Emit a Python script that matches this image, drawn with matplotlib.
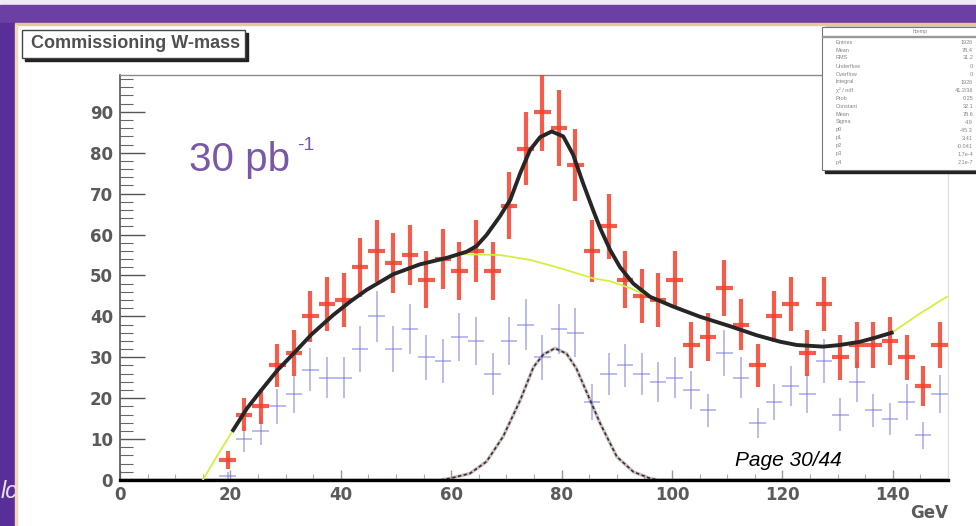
import matplotlib
matplotlib.use("Agg")
import matplotlib.pyplot as plt
from matplotlib.patches import Rectangle
from matplotlib.ticker import MultipleLocator

plt.rcParams["font.family"] = ["Liberation Sans", "DejaVu Sans"]

# histogram bins (GeV), 3 GeV wide
bin_centers = [19.5, 22.5, 25.5, 28.5, 31.5, 34.5, 37.5, 40.5, 43.5, 46.5, 49.5,
               52.5, 55.5, 58.5, 61.5, 64.5, 67.5, 70.5, 73.5, 76.5, 79.5, 82.5,
               85.5, 88.5, 91.5, 94.5, 97.5, 100.5, 103.5, 106.5, 109.5, 112.5,
               115.5, 118.5, 121.5, 124.5, 127.5, 130.5, 133.5, 136.5, 139.5,
               142.5, 145.5, 148.5]

# red: signal + background
total_counts = [5, 16, 18, 28, 31, 40, 43, 44, 52, 56, 53,
                55, 49, 54, 51, 56, 51, 67, 81, 90, 86, 77,
                56, 62, 49, 45, 44, 49, 33, 35, 47, 38,
                28, 40, 43, 31, 43, 30, 33, 33, 34,
                30, 23, 33]
total_err = [2.2, 4.0, 4.2, 5.3, 5.6, 6.3, 6.6, 6.6, 7.2, 7.5, 7.3,
             7.4, 7.0, 7.3, 7.1, 7.5, 7.1, 8.2, 9.0, 9.5, 9.3, 8.8,
             7.5, 7.9, 7.0, 6.7, 6.6, 7.0, 5.7, 5.9, 6.9, 6.2,
             5.3, 6.3, 6.6, 5.6, 6.6, 5.5, 5.7, 5.7, 5.8,
             5.5, 4.8, 5.7]

# blue: background only
bkg_counts = [1, 10, 12, 18, 21, 27, 25, 25, 32, 40, 32,
              37, 30, 29, 35, 34, 26, 34, 38, 30, 37, 36,
              19, 26, 28, 26, 24, 25, 22, 17, 31, 25,
              14, 19, 23, 21, 29, 16, 24, 17, 15,
              19, 11, 21]
bkg_err = [1.0, 3.2, 3.5, 4.2, 4.6, 5.2, 5.0, 5.0, 5.7, 6.3, 5.7,
           6.1, 5.5, 5.4, 5.9, 5.8, 5.1, 5.8, 6.2, 5.5, 6.1, 6.0,
           4.4, 5.1, 5.3, 5.1, 4.9, 5.0, 4.7, 4.1, 5.6, 5.0,
           3.7, 4.4, 4.8, 4.6, 5.4, 4.0, 4.9, 4.1, 3.9,
           4.4, 3.3, 4.6]

# fitted curves
fit_total_x = [20.5, 23.0, 25.5, 28.5, 31.5, 34.7, 38.6, 41.7, 44.7, 49.5, 54.3,
               59.2, 62.8, 64.6, 66.4, 68.8, 70.7, 72.5, 74.3, 76.1, 78.2,
               80.3, 82.1, 83.9, 85.7, 87.0, 88.8, 90.6, 93.0, 96.0, 100.2,
               105.1, 110.5, 115.3, 119.6, 122.6, 127.4, 130.4, 134.1, 137.1, 139.8]
fit_total_y = [12.2, 17.5, 21.8, 26.8, 31.0, 35.6, 40.3, 43.6, 46.5, 50.3, 52.7,
               54.3, 55.8, 57.2, 59.9, 64.4, 68.5, 75.0, 80.7, 83.8, 85.2,
               84.0, 79.5, 72.5, 66.0, 61.5, 56.2, 52.0, 48.0, 44.8, 42.4,
               39.9, 37.6, 35.4, 33.8, 33.0, 32.6, 33.0, 33.8, 34.9, 36.0]

fit_bkg_x = [15.0, 17.5, 20.5, 23.0, 25.5, 28.5, 31.5, 34.7, 38.6, 41.7, 44.7,
             49.5, 54.3, 59.2, 62.2, 68.8, 74.3, 79.7, 85.7, 88.8, 92.4, 96.0,
             100.2, 105.1, 110.5, 115.3, 119.6, 122.6, 127.4, 130.4, 134.1,
             137.1, 139.8, 141.9, 144.9, 149.8]
fit_bkg_y = [0.0, 5.7, 12.2, 17.5, 21.8, 26.8, 31.0, 35.6, 40.3, 43.6, 46.5,
             50.3, 52.7, 54.3, 55.2, 55.0, 53.8, 51.8, 49.3, 48.6, 46.9, 44.8,
             42.4, 39.9, 37.6, 35.4, 33.8, 33.0, 32.6, 33.0, 33.8,
             34.9, 36.0, 37.9, 40.7, 44.8]

fit_sig_x = [0.0, 58.0, 59.8, 63.4, 66.4, 69.4, 72.5, 74.9, 76.7, 78.8, 80.9,
             82.7, 84.5, 87.0, 90.0, 93.0, 96.0, 97.5, 150.0]
fit_sig_y = [0.0, 0.0, 0.4, 1.6, 4.5, 10.6, 19.5, 27.6, 30.7, 32.2, 30.9,
             27.2, 21.6, 13.8, 5.7, 2.0, 0.4, 0.0, 0.0]

stat_names = ["Entries", "Mean", "RMS", "Underflow", "Overflow", "Integral",
              "\u03c7\u00b2 / ndf", "Prob", "Constant", "Mean", "Sigma",
              "p0", "p1", "p2", "p3", "p4"]
stat_values = ["1926", "78.4", "31.2", "0", "0", "1926",
               "41.2/36", "0.25", "32.1", "78.6", "4.9",
               "-45.3", "3.41", "-0.041", "1.7e-4", "2.1e-7"]

W, H = 976, 526
fig = plt.figure(figsize=(W / 100, H / 100), dpi=100)
fig.patch.set_facecolor("white")


def fy(py):
    return 1 - py / H


# slide decoration (purple band, left strip, thin tan border)
fig.patches.append(Rectangle((0, fy(5)), 1, 5 / H, transform=fig.transFigure,
                             color="#efe9f5", zorder=0))
fig.patches.append(Rectangle((0, fy(23)), 1, 18 / H, transform=fig.transFigure,
                             color="#6c3fa2", zorder=0))
fig.patches.append(Rectangle((0, 0), 15 / W, fy(23), transform=fig.transFigure,
                             color="#5a2e98", zorder=0))
fig.patches.append(Rectangle((15 / W, fy(25)), 1, 2 / H, transform=fig.transFigure,
                             color="#e6c79c", zorder=0))
fig.patches.append(Rectangle((15 / W, 0), 2 / W, fy(25), transform=fig.transFigure,
                             color="#f0d8b8", zorder=0))
fig.text(1 / W, fy(492), "lc", ha="left", va="center", color="#e8e0f0",
         fontsize=17, style="italic")

# main axes
ax = fig.add_axes([120 / W, fy(480), 828 / W, 405 / H])
ax.set_xlim(0, 150)
ax.set_ylim(0, 99)

ax.errorbar(bin_centers, bkg_counts, yerr=bkg_err, xerr=1.5, fmt="none",
            ecolor="#7070e0", elinewidth=1.1, alpha=0.6, zorder=2)
ax.errorbar(bin_centers, total_counts, yerr=total_err, xerr=1.5, fmt="none",
            ecolor="#f2402c", elinewidth=3, alpha=0.85, zorder=3)

ax.plot(fit_bkg_x, fit_bkg_y, color="#d6ef3e", lw=1.3, zorder=4)
ax.plot(fit_sig_x, fit_sig_y, color="#cdbdbd", lw=2.4, zorder=1)
ax.plot(fit_sig_x, fit_sig_y, color="#333333", lw=1.2, dashes=(2, 1.5), zorder=2)
ax.plot(fit_total_x, fit_total_y, color="#262626", lw=2.8, zorder=6)

ax.spines["bottom"].set_color("black")
ax.spines["bottom"].set_linewidth(2.4)
ax.spines["left"].set_color("#555555")
ax.spines["left"].set_linewidth(1.2)
ax.spines["top"].set_color("#8a8a8a")
ax.spines["top"].set_linewidth(1.0)
ax.spines["right"].set_color("#dddddd")

ax.xaxis.set_major_locator(MultipleLocator(20))
ax.xaxis.set_minor_locator(MultipleLocator(5))
ax.yaxis.set_major_locator(MultipleLocator(10))
ax.yaxis.set_minor_locator(MultipleLocator(2))
ax.tick_params(axis="y", which="major", direction="in", length=18, width=1,
               color="#555555", labelsize=12, labelcolor="#5a5a5a", pad=5)
ax.tick_params(axis="y", which="minor", direction="in", length=9, width=0.8,
               color="#666666")
ax.tick_params(axis="x", which="major", direction="in", length=7, width=1,
               color="#999999", labelsize=12, labelcolor="#5a5a5a", pad=4)
ax.tick_params(axis="x", which="minor", direction="in", length=4, width=0.8,
               color="#aaaaaa")
for lbl in ax.get_xticklabels() + ax.get_yticklabels():
    lbl.set_family("DejaVu Sans")
    lbl.set_fontweight("bold")

# luminosity label
fig.text(189 / W, fy(160), "30 pb", ha="left", va="center", fontsize=29,
         color="#7a58a8")
fig.text(297 / W, fy(146), "-1", ha="left", va="center", fontsize=14,
         color="#7a58a8")

fig.text(948 / W, fy(513), "GeV", ha="right", va="center", fontsize=12,
         fontweight="bold", family="DejaVu Sans", color="#5a5a5a")
fig.text(735 / W, fy(461), "Page 30/44", ha="left", va="center", fontsize=15,
         style="italic", color="black", zorder=8)

# title pave with ROOT-style shadow
fig.patches.append(Rectangle((25 / W, fy(61)), 223 / W, 28 / H,
                             transform=fig.transFigure, color="#222222", zorder=2))
fig.patches.append(Rectangle((22 / W, fy(58)), 223 / W, 28 / H,
                             transform=fig.transFigure, facecolor="white",
                             edgecolor="#444444", lw=1, zorder=3))
fig.text(31 / W, fy(44), "Commissioning W-mass", ha="left", va="center",
         fontsize=13, fontweight="bold", color="#505050", zorder=4)

# stats box (blurred in the original)
fig.patches.append(Rectangle((825 / W, fy(173)), 160 / W, 146 / H,
                             transform=fig.transFigure, color="#222222", zorder=5))
fig.patches.append(Rectangle((822 / W, fy(170)), 160 / W, 143 / H,
                             transform=fig.transFigure, facecolor="white",
                             edgecolor="#777777", lw=0.8, zorder=6))
fig.patches.append(Rectangle((822 / W, fy(37)), 160 / W, 1 / H,
                             transform=fig.transFigure, color="#999999", zorder=7))
fig.text(920 / W, fy(32), "htemp", ha="center", va="center", fontsize=4,
         color="#888888", zorder=7)
for i, (name, val) in enumerate(zip(stat_names, stat_values)):
    y = fy(42 + i * 8)
    fig.text(836 / W, y, name, ha="left", va="center", fontsize=4,
             color="#666666", alpha=0.8, zorder=7)
    fig.text(973 / W, y, val, ha="right", va="center", fontsize=4,
             color="#666666", alpha=0.8, zorder=7)

fig.savefig("out.png", dpi=100)
